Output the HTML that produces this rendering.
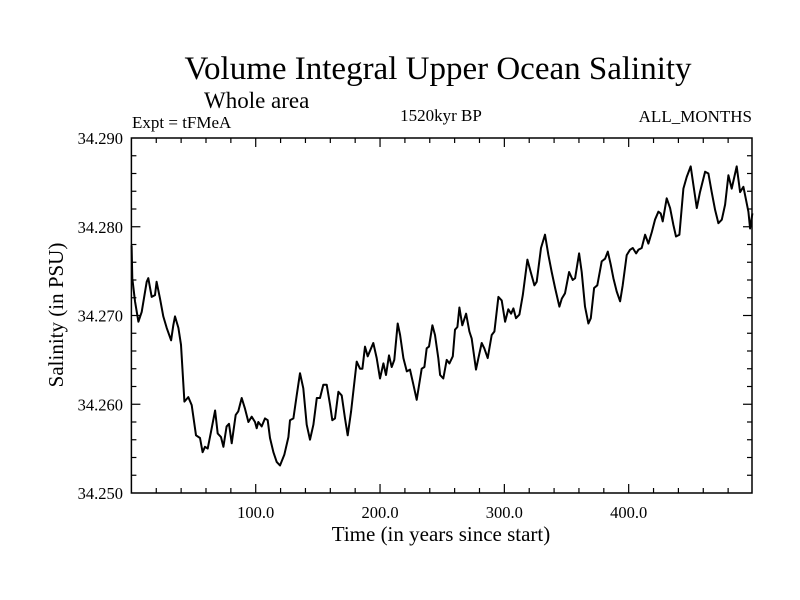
<!DOCTYPE html>
<html><head><meta charset="utf-8"><style>
body{margin:0;background:#fff}
svg{display:block;font-family:"Liberation Serif",serif}
</style></head><body>
<svg id="chart" width="800" height="600">
<text x="438" y="79" font-size="33" text-anchor="middle">Volume Integral Upper Ocean Salinity</text>
<text x="204" y="108" font-size="23">Whole area</text>
<text x="132" y="128" font-size="17">Expt = tFMeA</text>
<text x="441" y="121" font-size="17" text-anchor="middle">1520kyr BP</text>
<text x="752" y="122" font-size="17" text-anchor="end">ALL_MONTHS</text>
<text x="441" y="541" font-size="21" text-anchor="middle">Time (in years since start)</text>
<text transform="translate(63,315) rotate(-90)" font-size="21" text-anchor="middle">Salinity (in PSU)</text>
<g id="axes"></g>
<path id="line" fill="none" stroke="#000" stroke-width="2" stroke-linejoin="round"></path>
<rect x="131.4" y="138" width="620.6" height="355" fill="none" stroke="#000" stroke-width="1.5"></rect>
</svg>
<script>
const years=[0.2,0.7,2.9,5.6,8.3,12.3,13.6,16.3,19.0,20.3,23.0,25.7,28.4,31.9,33.7,35.1,37.8,39.9,42.6,45.8,48.5,52.0,55.2,57.3,59.2,61.4,64.0,67.3,69.4,72.1,74.0,76.6,78.5,80.7,83.9,86.0,88.7,91.4,94.1,96.8,99.4,100.8,102.1,104.8,107.5,109.6,111.5,114.2,116.9,119.5,123.0,126.3,127.6,130.3,133.0,135.6,138.3,141.0,143.7,146.4,149.1,151.7,154.4,157.1,159.8,161.6,163.8,166.5,169.2,171.8,174.0,176.7,181.2,183.9,185.8,187.9,190.1,194.6,197.3,200.0,202.7,204.8,207.2,209.4,211.5,214.2,216.1,218.8,221.5,224.1,226.8,229.5,233.5,235.7,237.5,239.4,242.1,244.2,246.9,
248.3,250.9,253.6,255.8,258.5,260.3,262.2,263.8,266.2,269.2,271.9,273.7,277.2,279.1,281.8,283.9,286.6,289.8,292.0,295.2,297.9,300.6,303.2,305.4,307.3,309.4,312.1,314.8,318.5,321.2,324.2,326.0,329.5,332.7,335.4,338.1,340.8,344.3,346.2,348.8,352.1,355.0,356.9,360.1,362.2,364.9,367.6,369.5,372.2,374.8,378.3,381.0,383.2,385.6,387.7,390.4,393.1,395.2,398.4,401.1,403.3,406.0,407.8,410.5,413.2,415.9,418.6,421.2,423.9,425.8,427.4,430.6,433.3,436.0,438.1,440.8,444.0,446.7,449.9,452.1,454.8,457.4,461.5,464.1,466.8,469.5,472.2,474.9,477.6,480.2,482.9,486.9,489.6,492.3,496.3,497.7,499.5];
const salinity=[34.2779,34.2742,34.2716,34.2693,34.2704,34.2738,34.2742,34.2721,34.2723,34.2738,34.2719,34.2699,34.2686,34.2672,34.2689,34.2699,34.2686,34.2667,34.2603,34.2608,34.2599,34.2565,34.2562,34.2546,34.2552,34.2550,34.2569,34.2593,34.2567,34.2563,34.2552,34.2575,34.2578,34.2556,34.2588,34.2592,34.2607,34.2595,34.2580,34.2586,34.2580,34.2573,34.2580,34.2575,34.2584,34.2582,34.2562,34.2546,34.2535,34.2531,34.2543,34.2563,34.2582,34.2584,34.2610,34.2635,34.2618,34.2577,34.2560,34.2577,34.2607,34.2607,34.2622,34.2622,34.2599,34.2582,34.2584,34.2614,34.2610,34.2584,34.2565,34.2592,34.2648,34.2640,34.2640,34.2665,34.2654,34.2669,34.2652,34.2629,34.2646,34.2633,34.2655,34.2642,34.2650,34.2691,34.2678,34.2652,34.2637,34.2639,34.2622,34.2605,34.2640,34.2642,34.2663,34.2665,34.2689,34.2678,34.2652,
34.2633,34.2629,34.2650,34.2646,34.2654,34.2684,34.2687,34.2709,34.2689,34.2702,34.2682,34.2674,34.2639,34.2652,34.2669,34.2663,34.2652,34.2678,34.2682,34.2721,34.2717,34.2693,34.2707,34.2702,34.2708,34.2697,34.2701,34.2723,34.2763,34.2749,34.2734,34.2738,34.2776,34.2791,34.2768,34.2749,34.2731,34.2710,34.2719,34.2725,34.2749,34.2740,34.2742,34.2770,34.2749,34.2710,34.2691,34.2697,34.2731,34.2734,34.2761,34.2764,34.2772,34.2757,34.2742,34.2727,34.2716,34.2734,34.2768,34.2774,34.2776,34.2770,34.2774,34.2776,34.2791,34.2781,34.2794,34.2808,34.2817,34.2815,34.2806,34.2832,34.2821,34.2802,34.2789,34.2791,34.2843,34.2856,34.2868,34.2847,34.2821,34.2839,34.2862,34.2860,34.2839,34.2819,34.2804,34.2808,34.2825,34.2858,34.2843,34.2868,34.2839,34.2845,34.2817,34.2798,34.2815];
const xTickLabels=["100.0","200.0","300.0","400.0"];
const xTickValues=[100,200,300,400];
const yTickLabels=["34.250","34.260","34.270","34.280","34.290"];
const yTickValues=[34.25,34.26,34.27,34.28,34.29];

const X0=131.4,X1=752,Y0=493,Y1=138,XMIN=0,XMAX=499.2,YMIN=34.25,YMAX=34.29;
const xs=v=>X0+(v-XMIN)/(XMAX-XMIN)*(X1-X0);
const ys=v=>Y0-(v-YMIN)/(YMAX-YMIN)*(Y0-Y1);
const NS="http://www.w3.org/2000/svg";
const axes=document.getElementById('axes');
function ln(x1,y1,x2,y2,name){const l=document.createElementNS(NS,'line');
l.setAttribute('x1',x1);l.setAttribute('y1',y1);l.setAttribute('x2',x2);l.setAttribute('y2',y2);
l.setAttribute('stroke','#000');l.setAttribute('stroke-width','1.2');


axes.appendChild(l);}
function tx(x,y,s,anchor,name){const t=document.createElementNS(NS,'text');
t.setAttribute('x',x);t.setAttribute('y',y);t.setAttribute('font-size','16.5');t.setAttribute('text-anchor',anchor);t.textContent=s;


axes.appendChild(t);}
for(let v=20;v<500;v+=20){const major=v%100===0;const L=major?9:5;const x=xs(v);
ln(x,Y0,x,Y0-L,'x-tick');ln(x,Y1,x,Y1+L,'x-tick');}
xTickLabels.forEach((s,i)=>tx(xs(xTickValues[i]),518,s,'middle','x-tick-label'));
for(let k=1;k<20;k++){const v=YMIN+k*0.002;const major=k%5===0;const L=major?9:5;const y=ys(v);
ln(X0,y,X0+L,y,'y-tick');ln(X1,y,X1-L,y,'y-tick');}
yTickLabels.forEach((s,i)=>tx(123,ys(yTickValues[i])+6,s,'end','y-tick-label'));
document.getElementById('line').setAttribute('d',years.map((y,i)=>(i?'L':'M')+xs(y).toFixed(1)+','+ys(salinity[i]).toFixed(1)).join(''));
</script>
</body></html>
